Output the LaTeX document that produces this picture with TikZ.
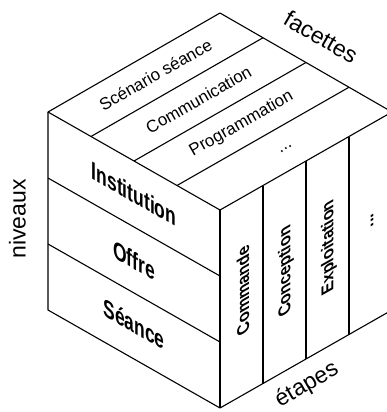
\documentclass[tikz,border=0pt]{standalone}
\usepackage{fontspec}
\setmainfont{Liberation Sans}
\usetikzlibrary{calc}
\begin{document}
\begin{tikzpicture}[x=1pt,y=-1pt,
  edge/.style={line width=1.1pt,line join=round},
  toplabel/.style={inner sep=0pt,rotate=29.7,font=\fontsize{17}{17}\selectfont},
  leftlabel/.style={inner sep=0pt,cm={0.7,-0.399,0,1,(0,0)},font=\fontsize{25}{25}\selectfont\bfseries},
  rightlabel/.style={inner sep=0pt,cm={0,0.85,-0.9,-0.513,(0,0)},font=\fontsize{19}{19}\selectfont\bfseries},
  biglabel/.style={inner sep=0pt,font=\fontsize{23}{23}\selectfont}]
\fill[white] (0,0) rectangle (387,412);
\clip (0,0) rectangle (387,412);
\useasboundingbox (0,0) rectangle (387,412);
\coordinate (T) at (220,13);
\coordinate (L) at (48,112);
\coordinate (R) at (392,112);
\coordinate (F) at (220,210);
\coordinate (LB) at (48,310);
\coordinate (FB) at (220,408);
\coordinate (RB) at (392,310);
% outline
\draw[edge] (L) -- (T) -- (R) -- (F) -- cycle;
\draw[edge] (L) -- (LB) -- (FB) -- (RB) -- (R);
\draw[edge] (F) -- (FB);
% subdivisions
\foreach \k in {1,2,3} {
  \draw[edge] ($(L)!\k/4!(F)$) -- ($(T)!\k/4!(R)$);
  \draw[edge] ($(F)!\k/4!(R)$) -- ($(FB)!\k/4!(RB)$);
}
\foreach \k in {1,2} {
  \draw[edge] ($(L)!\k/3!(LB)$) -- ($(F)!\k/3!(FB)$);
}
% top face
\node[toplabel] (f1) at (155.5,74.5) {Scénario séance};
\node[toplabel] (f2) at (198.5,99.5) {Communication};
\node[toplabel] (f3) at (241.5,124) {Programmation};
\node[toplabel] (f4) at (286,149) {...};
% left face
\node[leftlabel] (n1) at (134,194) {Institution};
\node[leftlabel] (n2) at (134,260) {Offre};
\node[leftlabel] (n3) at (134,324) {Séance};
% right face
\node[rightlabel] (e1) at (243,291) {Commande};
\node[rightlabel] (e2) at (286,271) {Conception};
\node[rightlabel] (e3) at (329,247) {Exploitation};
\node[rightlabel] (e4) at (372,220) {...};
% axis labels
\node[biglabel,rotate=90] (niv) at (17.5,219) {niveaux};
\node[biglabel,rotate=-30] (fac) at (321,37) {facettes};
\node[biglabel,rotate=30] (eta) at (307,385) {étapes};
\end{tikzpicture}
\end{document}
